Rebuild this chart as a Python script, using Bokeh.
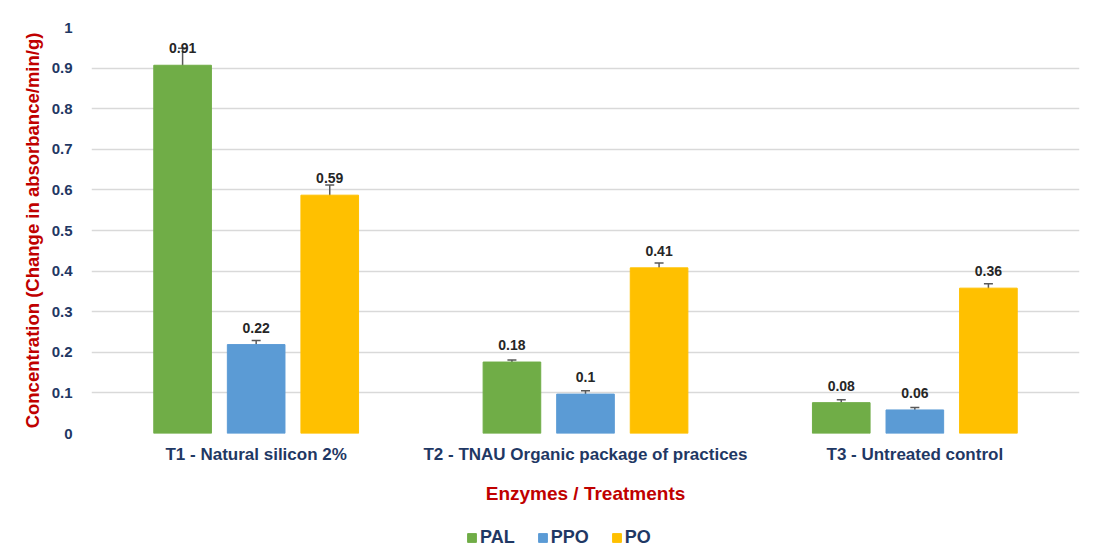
from bokeh.plotting import figure
from bokeh.layouts import column
from bokeh.models import ColumnDataSource, FactorRange, Whisker, Legend, LegendItem, Range1d, FixedTicker
from bokeh.transform import dodge
from bokeh.core.properties import value
from bokeh.embed import file_html
from bokeh.resources import INLINE

treatments = ["T1 - Natural silicon 2%", "T2 - TNAU Organic package of practices", "T3 - Untreated control"]
pal = [0.907, 0.176, 0.076]
ppo = [0.219, 0.097, 0.058]
po = [0.587, 0.408, 0.358]
pal_err = [0.042, 0.005, 0.007]
ppo_err = [0.010, 0.008, 0.006]
po_err = [0.025, 0.012, 0.011]
pal_lbl = ["0.91", "0.18", "0.08"]
ppo_lbl = ["0.22", "0.1", "0.06"]
po_lbl = ["0.59", "0.41", "0.36"]
series = ["PAL", "PPO", "PO"]
colors = ["#70AD47", "#5B9BD5", "#FFC000"]
y_ticks = [0, 0.1, 0.2, 0.3, 0.4, 0.5, 0.6, 0.7, 0.8, 0.9, 1]

FONT = "Liberation Sans"
NAVY = "#1F3864"
RED = "#C00000"

p = figure(x_range=FactorRange(*treatments, range_padding=0), y_range=Range1d(0, 1),
           width=1094, height=513, output_backend="svg", toolbar_location=None,
           min_border_left=91, min_border_right=15, min_border_top=27, min_border_bottom=80)
p.outline_line_color = None
p.background_fill_color = "white"

offsets = [-0.2234, 0.0, 0.2234]
vals = [pal, ppo, po]
errs = [pal_err, ppo_err, po_err]
lbls = [pal_lbl, ppo_lbl, po_lbl]
for name, col, off, v, e, lb in zip(series, colors, offsets, vals, errs, lbls):
    src = ColumnDataSource(dict(x=treatments, top=v,
                                upper=[a + b for a, b in zip(v, e)],
                                lower=[a - b for a, b in zip(v, e)],
                                lbl=lb))
    p.vbar(x=dodge("x", off, range=p.x_range), top="top", width=0.175, source=src,
           fill_color=col, line_color=col)
    w = Whisker(base=dodge("x", off, range=p.x_range), upper="upper", lower="lower", source=src,
                line_color="#595959", line_width=1.5)
    w.upper_head.line_color = "#595959"
    w.lower_head.line_color = "#595959"
    w.upper_head.size = 9
    w.lower_head.size = 9
    w.upper_head.line_width = 1.5
    w.lower_head.line_width = 1.5
    p.add_layout(w)
    p.text(x=dodge("x", off, range=p.x_range), y="top", text="lbl", source=src,
           text_align="center", text_baseline="bottom", y_offset=-12,
           text_font=value(FONT), text_font_style="bold", text_font_size="14px",
           text_color="#262626")

p.xgrid.grid_line_color = None
p.ygrid.grid_line_color = "#D9D9D9"
p.ygrid.grid_line_width = 1.5
p.yaxis.ticker = FixedTicker(ticks=y_ticks)
p.yaxis.major_label_overrides = {0: "0", 1: "1"}
for ax in (p.xaxis, p.yaxis):
    ax.axis_line_color = None
    ax.major_tick_line_color = None
    ax.minor_tick_line_color = None
    ax.major_label_text_font = FONT
    ax.major_label_text_font_style = "bold"
    ax.major_label_text_color = NAVY
    ax.axis_label_text_font = FONT
    ax.axis_label_text_font_style = "bold"
    ax.axis_label_text_color = RED

p.yaxis.major_label_text_font_size = "15px"
p.yaxis.major_label_standoff = 13
p.yaxis.axis_label = "Concentration (Change in absorbance/min/g)"
p.yaxis.axis_label_text_font_size = "18.5px"
p.yaxis.axis_label_standoff = 6

p.xaxis.major_label_text_font_size = "17px"
p.xaxis.major_label_standoff = 5
p.xaxis.axis_label = "Enzymes / Treatments"
p.xaxis.axis_label_text_font_size = "19px"
p.xaxis.axis_label_standoff = 16

# legend in its own strip below the chart
lg = figure(width=1094, height=42, output_backend="svg", toolbar_location=None,
            x_range=Range1d(0, 1), y_range=Range1d(0, 1),
            x_axis_location=None, y_axis_location=None,
            min_border_left=0, min_border_right=0, min_border_top=0, min_border_bottom=0)
lg.grid.grid_line_color = None
lg.outline_line_color = None
items = []
for name, col in zip(series, colors):
    r = lg.vbar(x=[-10], top=[-10], width=0.1, fill_color=col, line_color=col)
    items.append(LegendItem(label=name, renderers=[r]))
legend = Legend(items=items, orientation="horizontal", location=(375, 7),
                label_text_font=FONT, label_text_font_style="bold", label_text_font_size="18px",
                label_text_color=NAVY, glyph_width=11, glyph_height=11, label_standoff=3,
                spacing=22, border_line_color=None, background_fill_alpha=0, padding=4, margin=0)
lg.add_layout(legend, "center")

layout = column(p, lg, spacing=0)
open("out.html", "w").write(file_html(layout, INLINE))
